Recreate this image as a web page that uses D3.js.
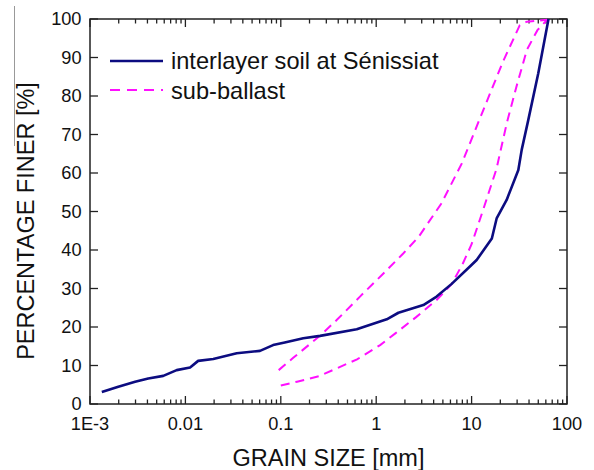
<!DOCTYPE html>
<html>
<head>
<meta charset="utf-8">
<script src="https://cdn.jsdelivr.net/npm/d3@7"></script>
<style>
  html, body { margin: 0; padding: 0; background: #fff; }
  svg text { font-family: "Liberation Sans", Arial, sans-serif; fill: #111; }
</style>
</head>
<body>
<svg id="chart" width="594" height="470"></svg>
<script>
// Grain size distribution curves (grain size in mm, percentage finer in %)
const interlayerSize = [0.00133, 0.00198, 0.00297, 0.00408, 0.00586, 0.0081, 0.0112, 0.0136, 0.0196,
  0.0345, 0.0605, 0.083, 0.11, 0.172, 0.258, 0.625, 1.29, 1.71, 3.12, 4.3, 6.18, 9.6, 11.3, 16.3,
  18.3, 23.3, 30.9, 33.5, 39.3, 50, 64];
const interlayerFiner = [3.1, 4.5, 5.8, 6.6, 7.3, 8.8, 9.5, 11.2, 11.7,
  13.2, 13.8, 15.3, 16.0, 17.1, 17.7, 19.4, 22.0, 23.7, 25.7, 27.9, 31.2, 35.7, 37.4, 43.0,
  48.2, 53.0, 60.8, 66.0, 73.8, 85.9, 100];

// Sub-ballast envelope: finer (upper) and coarser (lower) limits
const subUpperSize = [0.095, 0.135, 0.257, 0.385, 0.676, 1.19, 1.92, 2.8, 4.8, 7.9, 11.7, 15.8, 21.4, 32, 38, 62];
const subUpperFiner = [8.8, 12.0, 17.7, 21.8, 27.9, 33.9, 39.1, 43.5, 52.0, 62.5, 73.0, 81.0, 89.0, 98.4, 99.3, 99.8];
const subLowerSize = [0.1, 0.148, 0.25, 0.39, 0.63, 1.1, 1.6, 2.6, 4.3, 6.2, 8.1, 10, 13.2, 18.2, 23.4, 29.5, 38, 49, 62];
const subLowerFiner = [4.8, 5.8, 7.2, 9.3, 11.6, 15.3, 18.4, 22.5, 27.0, 31.2, 36.5, 41.5, 50.4, 61.0, 73.0, 82.4, 92.0, 97.1, 99.8];

const xTickValues = [0.001, 0.01, 0.1, 1, 10, 100];
const xTickLabels = ["1E-3", "0.01", "0.1", "1", "10", "100"];
const yTickValues = [0, 10, 20, 30, 40, 50, 60, 70, 80, 90, 100];

const legendLabels = ["interlayer soil at Sénissiat", "sub-ballast"];
const xTitle = "GRAIN SIZE [mm]";
const yTitle = "PERCENTAGE FINER [%]";

const navy = "#0c0c80";
const magenta = "#ff10ff";

const svg = d3.select("#chart");
const plotLeft = 90, plotRight = 567, plotTop = 19, plotBottom = 404;

const x = d3.scaleLog().domain([0.001, 100]).range([plotLeft, plotRight]);
const y = d3.scaleLinear().domain([0, 100]).range([plotBottom, plotTop]);

// minor ticks at 2..9 of each decade
const minorTicks = [];
for (let e = -3; e < 2; e++) {
  for (let m = 2; m <= 9; m++) minorTicks.push(m * Math.pow(10, e));
}

const axisColor = "#222";
const g = svg.append("g");

// thin stray frame line at the far left
svg.append("line").attr("x1", 14.5).attr("x2", 14.5).attr("y1", 6).attr("y2", 146)
  .attr("stroke", "#999").attr("stroke-width", 1);

// ticks (inward) on all four sides
function xTicks(yPos, dir) {
  g.selectAll(null).data(xTickValues).enter().append("line")
    .attr("x1", d => x(d)).attr("x2", d => x(d))
    .attr("y1", yPos).attr("y2", yPos + dir * 8)
    .attr("stroke", axisColor).attr("stroke-width", 1.3);
  g.selectAll(null).data(minorTicks).enter().append("line")
    .attr("x1", d => x(d)).attr("x2", d => x(d))
    .attr("y1", yPos).attr("y2", yPos + dir * 4.5)
    .attr("stroke", axisColor).attr("stroke-width", 1.3);
}
xTicks(plotBottom, -1);
xTicks(plotTop, 1);
function yTicks(xPos, dir) {
  g.selectAll(null).data(yTickValues).enter().append("line")
    .attr("x1", xPos).attr("x2", xPos + dir * 8)
    .attr("y1", d => y(d)).attr("y2", d => y(d))
    .attr("stroke", axisColor).attr("stroke-width", 1.3);
}
yTicks(plotLeft, 1);
yTicks(plotRight, -1);

// frame
g.append("rect").attr("x", plotLeft).attr("y", plotTop)
  .attr("width", plotRight - plotLeft).attr("height", plotBottom - plotTop)
  .attr("fill", "none").attr("stroke", axisColor).attr("stroke-width", 1.5);

// tick labels
g.selectAll(null).data(xTickValues).enter().append("text")
  .attr("x", d => x(d)).attr("y", 429.5)
  .attr("text-anchor", "middle").attr("font-size", 18.2)
  .text((d, i) => xTickLabels[i]);
g.selectAll(null).data(yTickValues).enter().append("text")
  .attr("x", 81.5).attr("y", d => y(d) + 6.3)
  .attr("text-anchor", "end").attr("font-size", 18.2)
  .text(d => d);

// axis titles
svg.append("text").attr("x", (plotLeft + plotRight) / 2).attr("y", 466)
  .attr("text-anchor", "middle").attr("font-size", 23.5).text(xTitle);
svg.append("text").attr("transform", "translate(34," + 221 + ") rotate(-90)")
  .attr("text-anchor", "middle").attr("font-size", 23.5).text(yTitle);

// curves
const line = d3.line().x(d => x(d[0])).y(d => y(d[1]));
const zip = (a, b) => a.map((v, i) => [v, b[i]]);

svg.append("path").datum(zip(subUpperSize, subUpperFiner)).attr("d", line)
  .attr("fill", "none").attr("stroke", magenta).attr("stroke-width", 2)
  .attr("stroke-dasharray", "9,6");
svg.append("path").datum(zip(subLowerSize, subLowerFiner)).attr("d", line)
  .attr("fill", "none").attr("stroke", magenta).attr("stroke-width", 2)
  .attr("stroke-dasharray", "9,6");
svg.append("path").datum(zip(interlayerSize, interlayerFiner)).attr("d", line)
  .attr("fill", "none").attr("stroke", navy).attr("stroke-width", 2.6)
  .attr("stroke-linejoin", "round");

// legend
const legend = svg.append("g");
legend.append("line").attr("x1", 110).attr("x2", 163).attr("y1", 61).attr("y2", 61)
  .attr("stroke", navy).attr("stroke-width", 2.6);
legend.append("line").attr("x1", 110).attr("x2", 163).attr("y1", 90).attr("y2", 90)
  .attr("stroke", magenta).attr("stroke-width", 2).attr("stroke-dasharray", "10,7");
legend.append("text").attr("x", 171).attr("y", 68.5).attr("font-size", 23.6).text(legendLabels[0]);
legend.append("text").attr("x", 171).attr("y", 98.5).attr("font-size", 23.6).text(legendLabels[1]);
</script>
</body>
</html>
